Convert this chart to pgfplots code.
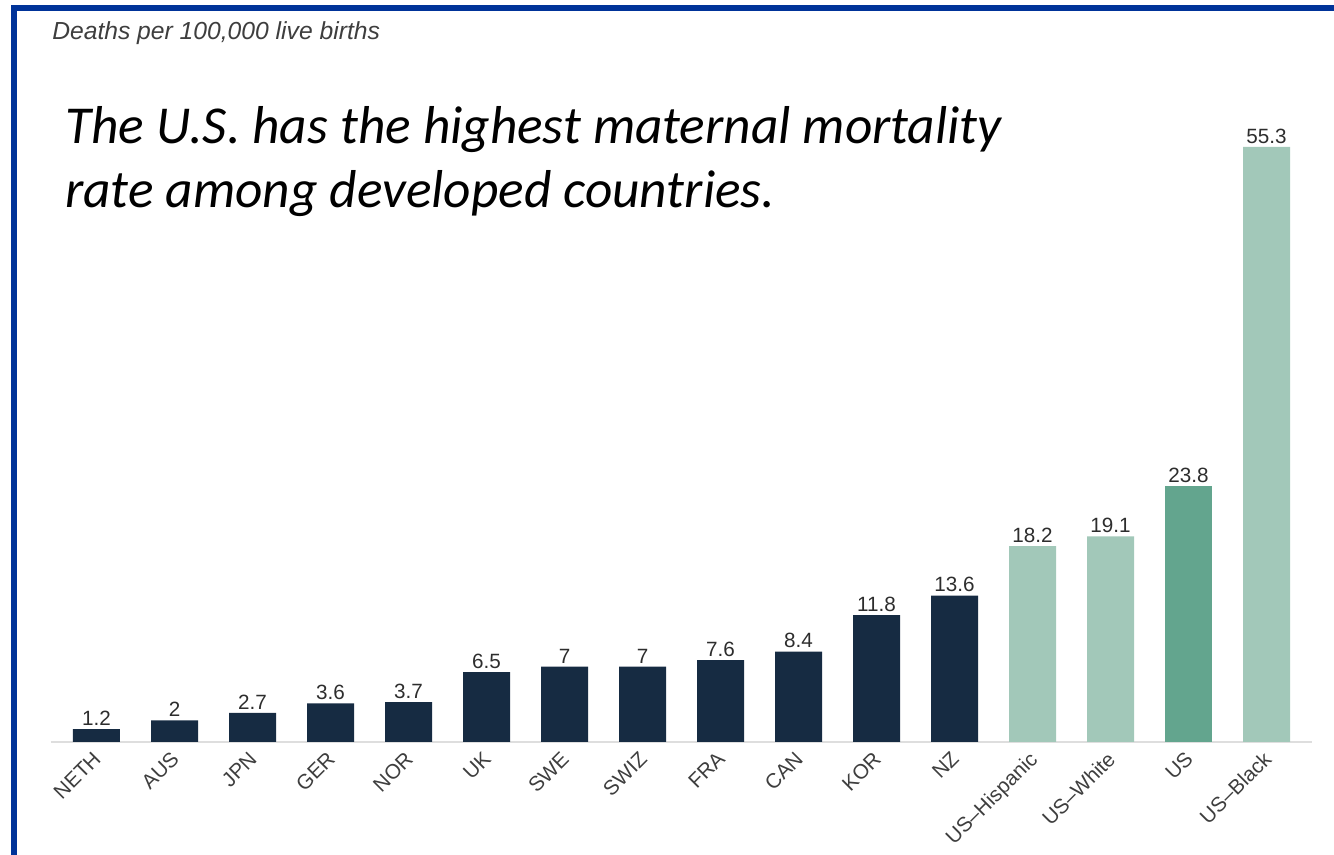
\documentclass[border=0pt]{standalone}
\usepackage{pgfplots}
\pgfplotsset{compat=1.18}
\usepackage{fontspec}
\setmainfont{Liberation Sans}
\newfontfamily\titlefont{Carlito}
\definecolor{frameblue}{RGB}{0,51,153}
\definecolor{navy}{RGB}{22,43,66}
\definecolor{lightgreen}{RGB}{162,200,185}
\definecolor{usgreen}{RGB}{99,165,142}
\definecolor{axisgray}{RGB}{222,222,222}
\definecolor{labgray}{RGB}{45,45,45}
\definecolor{tickgray}{RGB}{62,62,62}
\begin{document}
\begin{tikzpicture}[x=0.75pt,y=0.75pt]
\useasboundingbox (0,0) rectangle (1334,855);
\begin{axis}[
  at={(38.25pt,84.75pt)}, anchor=south west,
  scale only axis,
  width=945.75pt, height=484.2pt,
  xmin=-0.5833, xmax=15.583,
  ymin=0, ymax=60,
  ybar, bar width=35.25pt, bar shift=0pt,
  axis y line=none,
  axis x line*=bottom,
  x axis line style={axisgray, line width=1.5pt, -},
  major tick length=0pt,
  xtick={0,...,15},
  xticklabels={NETH,AUS,JPN,GER,NOR,UK,SWE,SWIZ,FRA,CAN,KOR,NZ,US–Hispanic,US–White,US,US–Black},
  xticklabel style={xshift=-3.4pt, yshift=-4.6pt, rotate=45, anchor=north east, font=\fontsize{15.5}{17}\selectfont, text=tickgray, inner sep=1pt},
  /pgf/number format/assume math mode=true,
  nodes near coords,
  every node near coord/.append style={font=\fontsize{15.5}{17}\selectfont, text=labgray, inner sep=2.5pt},
  clip=false,
]
\addplot[fill=navy, draw=none] coordinates {(0,1.2) (1,2) (2,2.7) (3,3.6) (4,3.7) (5,6.5) (6,7) (7,7) (8,7.6) (9,8.4) (10,11.8) (11,13.6)};
\addplot[fill=lightgreen, draw=none] coordinates {(12,18.2) (13,19.1) (15,55.3)};
\addplot[fill=usgreen, draw=none] coordinates {(14,23.8)};
\end{axis}
\draw[frameblue, line width=4.2pt] (13.8,0) -- (13.8,847) -- (1334,847);
\node[anchor=base west, inner sep=0pt, text=tickgray, font=\itshape\fontsize{18.5}{20}\selectfont] at (52,815) {Deaths per 100,000 live births};
\node[anchor=base west, inner sep=0pt, font=\titlefont\itshape\fontsize{40}{48}\selectfont] at (65,711) {The U.S. has the highest maternal mortality};
\node[anchor=base west, inner sep=0pt, font=\titlefont\itshape\fontsize{40}{48}\selectfont] at (65,647) {rate among developed countries.};
\end{tikzpicture}
\end{document}
